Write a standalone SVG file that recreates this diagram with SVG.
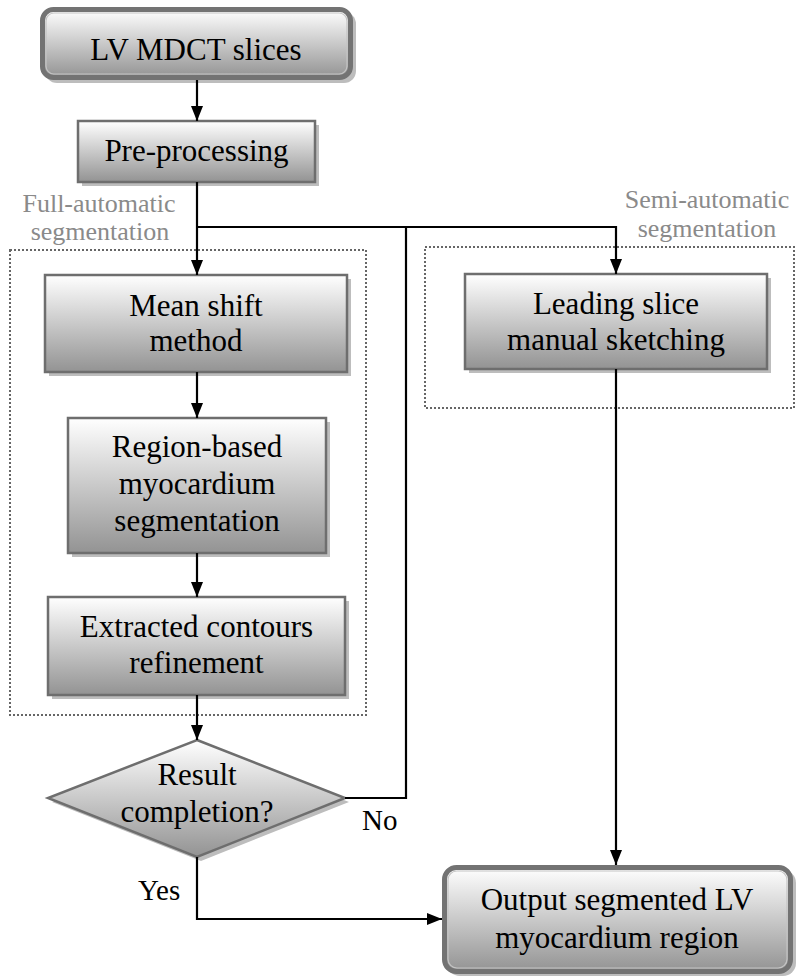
<svg xmlns="http://www.w3.org/2000/svg" width="796" height="976" viewBox="0 0 796 976" font-family="'Liberation Serif', Tinos, 'Times New Roman', 'DejaVu Serif', serif">
<defs>
<linearGradient id="g" x1="0" y1="0" x2="0" y2="1">
<stop offset="0" stop-color="#ffffff"/>
<stop offset="1" stop-color="#939393"/>
</linearGradient>
<marker id="ah" markerUnits="userSpaceOnUse" markerWidth="16" markerHeight="12" refX="15" refY="6" orient="auto">
<path d="M0,0 L15,6 L0,12 z" fill="#000"/>
</marker>
<style>
.box{fill:url(#g);stroke:#6e6e6e;stroke-width:2.5}
.sh{fill:#bdbdbd}
.rbox{fill:url(#g);stroke:#737373;stroke-width:5}
.rin{fill:none;stroke:#c4c4c4;stroke-width:1.2}
.t{font-size:31px;fill:#000;text-anchor:middle}
.lbl{font-size:26px;fill:#8a8a8a;text-anchor:middle}
.yn{font-size:29px;fill:#000}
.dot{fill:none;stroke:#666;stroke-width:2;stroke-dasharray:2 2}
.c{fill:none;stroke:#000;stroke-width:2.2}
</style>
</defs>
<rect width="796" height="976" fill="#fff"/>

<g id="groups">
<rect class="dot" x="10" y="250" width="356" height="465"/>
<rect class="dot" x="425" y="247" width="369" height="161"/>
<text class="lbl" x="99" y="212">Full-automatic</text>
<text class="lbl" x="100" y="240">segmentation</text>
<text class="lbl" x="707" y="208">Semi-automatic</text>
<text class="lbl" x="707" y="237">segmentation</text>
</g>

<g id="n-lv">
<rect class="sh" x="45" y="12" width="311" height="71" rx="12"/>
<rect class="rbox" x="42.5" y="9.5" width="308" height="68" rx="11"/>
<rect class="rin" x="46" y="13" width="301" height="61" rx="8"/>
<text class="t" x="196" y="60">LV MDCT slices</text>
</g>

<g id="n-pre">
<rect class="sh" x="82" y="125" width="237" height="61"/>
<rect class="box" x="78" y="121" width="237" height="61"/>
<text class="t" x="196.5" y="161">Pre-processing</text>
</g>

<g id="n-mean">
<rect class="sh" x="49" y="279" width="302" height="97"/>
<rect class="box" x="45" y="275" width="302" height="97"/>
<text class="t" x="196" y="316">Mean shift</text>
<text class="t" x="196" y="351">method</text>
</g>

<g id="n-region">
<rect class="sh" x="72" y="422" width="258" height="135"/>
<rect class="box" x="68" y="418" width="258" height="135"/>
<text class="t" x="197" y="457">Region-based</text>
<text class="t" x="197" y="494">myocardium</text>
<text class="t" x="197" y="531">segmentation</text>
</g>

<g id="n-extract">
<rect class="sh" x="52" y="601" width="297" height="98"/>
<rect class="box" x="48" y="597" width="297" height="98"/>
<text class="t" x="196.5" y="637">Extracted contours</text>
<text class="t" x="196.5" y="673">refinement</text>
</g>

<g id="n-decision">
<polygon class="sh" points="201,744 349,802 201,861 52,802"/>
<polygon class="box" points="197,740 345,798 197,857 48,798"/>
<text class="t" x="197" y="785">Result</text>
<text class="t" x="197" y="822">completion?</text>
</g>

<g id="n-leading">
<rect class="sh" x="469" y="278" width="302" height="95"/>
<rect class="box" x="465" y="274" width="302" height="95"/>
<text class="t" x="616" y="314">Leading slice</text>
<text class="t" x="616" y="350">manual sketching</text>
</g>

<g id="n-output">
<rect class="sh" x="447" y="870" width="349" height="106" rx="13"/>
<rect class="rbox" x="444.5" y="867.5" width="346" height="104" rx="12"/>
<rect class="rin" x="448" y="871" width="339" height="97" rx="9"/>
<text class="t" x="617" y="910">Output segmented LV</text>
<text class="t" x="617" y="948">myocardium region</text>
</g>

<g id="connectors">
<line class="c" x1="197" y1="80" x2="197" y2="121" marker-end="url(#ah)"/>
<line class="c" x1="197" y1="182" x2="197" y2="275" marker-end="url(#ah)"/>
<polyline class="c" points="197,227 616,227 616,274" marker-end="url(#ah)"/>
<line class="c" x1="197" y1="372" x2="197" y2="418" marker-end="url(#ah)"/>
<line class="c" x1="197" y1="553" x2="197" y2="597" marker-end="url(#ah)"/>
<line class="c" x1="197" y1="695" x2="197" y2="740" marker-end="url(#ah)"/>
<polyline class="c" points="345,798 406,798 406,227"/>
<line class="c" x1="616" y1="369" x2="616" y2="865" marker-end="url(#ah)"/>
<polyline class="c" points="197,857 197,919 442,919" marker-end="url(#ah)"/>
<text class="yn" x="362" y="830">No</text>
<text class="yn" x="138" y="900">Yes</text>
</g>
</svg>
